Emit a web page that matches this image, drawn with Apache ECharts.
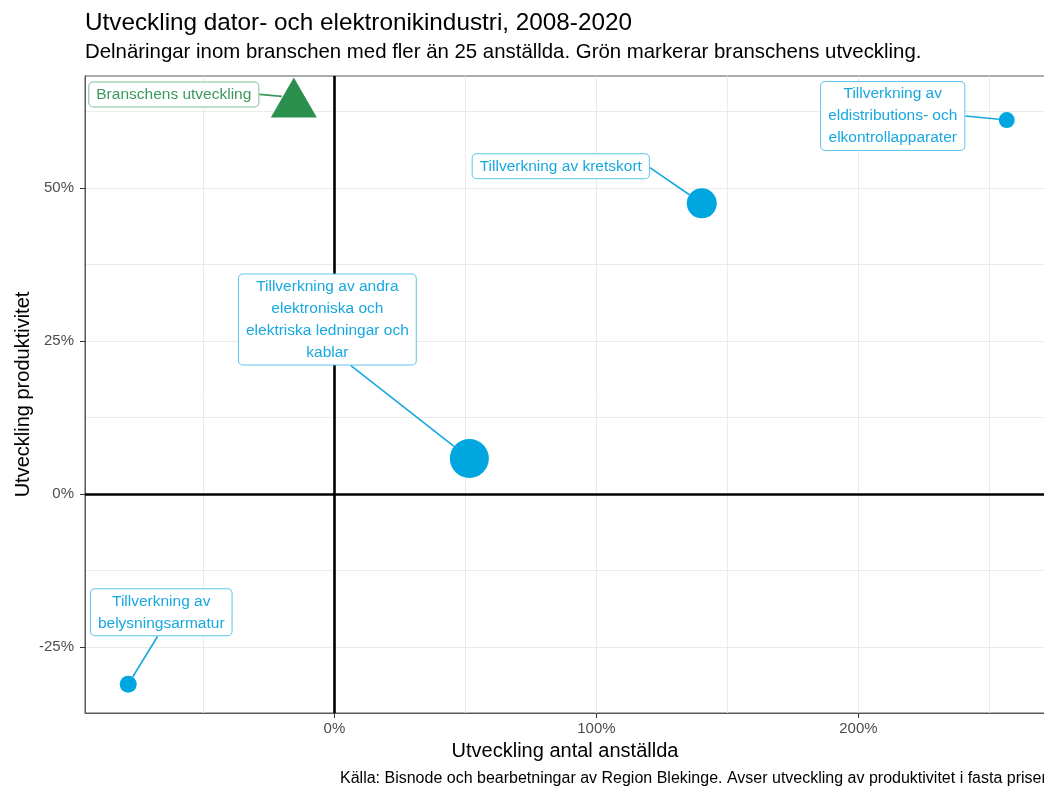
<!DOCTYPE html>
<html>
<head>
<meta charset="utf-8">
<script src="https://cdn.jsdelivr.net/npm/echarts@6/dist/echarts.min.js"></script>
<style>
  html, body { margin: 0; padding: 0; background: #fff; }
  #chart { width: 1044px; height: 787px; }
</style>
</head>
<body>
<div id="chart"></div>
<script>
  // delnäringar (blå punkter)
  var delnaringar = [
    'Tillverkning av\neldistributions- och\nelkontrollapparater',
    'Tillverkning av kretskort',
    'Tillverkning av andra\nelektroniska och\nelektriska ledningar och\nkablar',
    'Tillverkning av\nbelysningsarmatur'
  ];
  var anstallda = [256.6, 140.2, 51.5, -78.7];     // utveckling antal anställda, %
  var produktivitet = [61.1, 47.5, 5.8, -31.1];   // utveckling produktivitet, %
  var storlek = [16, 30, 39, 17];                 // punktstorlek

  // hela branschen (grön triangel)
  var bransch = ['Branschens utveckling'];
  var branschAnstallda = [-15.5];
  var branschProduktivitet = [64.8];

  var xTicks = [0, 100, 200];
  var yTicks = [-25, 0, 25, 50];

  var font = 'Liberation Sans, Arial, sans-serif';
  var blue = '#00A6DF';
  var green = '#2B8F4E';
  var blueText = '#17A8E0';
  var greenText = '#3A9A5C';

  // where the label boxes sit relative to their point (px), and where the leader line leaves the box
  var blueShift = [[-114, -4], [-141, -37], [-142, -139], [33, -72]];
  var blueAnchor = [[1, 0], [1, 0.1], [0.26, 1], [-0.05, 1]];
  var greenShift = [[-120, -3]];
  var greenAnchor = [[1, 0]];

  var leaders = {};   // filled while labels are laid out

  function pct(v) { return v + '%'; }

  function leader(key, shift, anchor, stop) {
    return function (p) {
      var s = shift[p.dataIndex], a = anchor[p.dataIndex], r = p.labelRect;
      var cx = r.x + r.width / 2 + s[0], cy = r.y + r.height / 2 + s[1];
      var sx = cx + a[0] * r.width / 2, sy = cy + a[1] * r.height / 2;
      var px = p.rect.x + p.rect.width / 2, py = p.rect.y + p.rect.height / 2;
      var dx = px - sx, dy = py - sy, d = Math.sqrt(dx * dx + dy * dy);
      var g = stop(p.dataIndex);
      leaders[key + p.dataIndex] = [[sx, sy], [px - dx / d * g, py - dy / d * g]];
      return { dx: s[0], dy: s[1], hideOverlap: false };
    };
  }

  var xMin = -95.2, xMax = 271.2, yMin = -35.8, yMax = 68.3;

  var caption = {
    id: 'kalla', type: 'text', left: 340, top: 771, silent: true,
    style: {
      text: 'Källa: Bisnode och bearbetningar av Region Blekinge. Avser utveckling av produktivitet i fasta priser',
      font: '16px ' + font, fill: '#000'
    }
  };

  var option = {
    animation: false,
    backgroundColor: '#fff',
    textStyle: { fontFamily: font },
    title: {
      left: 85, top: 11, padding: 0, itemGap: 7,
      text: 'Utveckling dator- och elektronikindustri, 2008-2020',
      subtext: 'Delnäringar inom branschen med fler än 25 anställda. Grön markerar branschens utveckling.',
      textStyle: { fontFamily: font, fontSize: 24.3, lineHeight: 24, fontWeight: 'normal', color: '#000' },
      subtextStyle: { fontFamily: font, fontSize: 20.4, lineHeight: 20, color: '#000' }
    },
    grid: {
      left: 85, right: -1, top: 76, bottom: 74, outerBoundsMode: 'none',
      show: true, borderColor: '#595959', borderWidth: 1, backgroundColor: '#fff'
    },
    xAxis: [{
      type: 'value', min: xMin, max: xMax, minInterval: 50, maxInterval: 50, splitNumber: 7,
      axisLine: { show: false }, axisTick: { show: false }, axisLabel: { show: false },
      splitLine: { show: true, showMinLine: false, showMaxLine: false, lineStyle: { color: '#EBEBEB', width: 1 } }
    }, {
      type: 'value', position: 'bottom', min: xMin, max: xMax,
      name: 'Utveckling antal anställda', nameLocation: 'middle', nameGap: 28, nameMoveOverlap: false,
      nameTextStyle: { fontFamily: font, fontSize: 20, color: '#000' },
      axisLine: { show: true, onZero: false, lineStyle: { color: '#595959', width: 1 } },
      axisTick: { show: true, length: 5, customValues: xTicks, lineStyle: { color: '#333' } },
      axisLabel: { margin: 8, fontSize: 15, color: '#4D4D4D', fontFamily: font, customValues: xTicks, formatter: pct },
      splitLine: { show: false }
    }],
    yAxis: [{
      type: 'value', min: yMin, max: yMax, minInterval: 12.5, maxInterval: 12.5, splitNumber: 8,
      axisLine: { show: false }, axisTick: { show: false }, axisLabel: { show: false },
      splitLine: { show: true, showMinLine: false, showMaxLine: false, lineStyle: { color: '#EBEBEB', width: 1 } }
    }, {
      type: 'value', position: 'left', min: yMin, max: yMax,
      name: 'Utveckling produktivitet', nameLocation: 'middle', nameGap: 52, nameMoveOverlap: false,
      nameTextStyle: { fontFamily: font, fontSize: 20, color: '#000' },
      axisLine: { show: true, onZero: false, lineStyle: { color: '#595959', width: 1 } },
      axisTick: { show: true, length: 5, customValues: yTicks, lineStyle: { color: '#333' } },
      axisLabel: { margin: 11, fontSize: 15, color: '#4D4D4D', fontFamily: font, customValues: yTicks, formatter: pct },
      splitLine: { show: false }
    }],
    graphic: [caption],
    series: [{
      type: 'scatter', name: 'nollinjer', xAxisIndex: 0, yAxisIndex: 0, data: [], z: 1,
      markLine: {
        silent: true, symbol: 'none', animation: false, z: 1,
        label: { show: false },
        lineStyle: { color: '#000', width: 2.6, type: 'solid' },
        emphasis: { disabled: true },
        data: [{ xAxis: 0 }, { yAxis: 0 }]
      }
    }, {
      type: 'scatter', name: 'delnäringar', xAxisIndex: 0, yAxisIndex: 0, z: 3,
      data: anstallda.map(function (x, i) { return [x, produktivitet[i], storlek[i]]; }),
      symbol: 'circle',
      symbolSize: function (v) { return v[2]; },
      itemStyle: { color: blue, opacity: 1 },
      emphasis: { disabled: true },
      label: {
        show: true, position: 'inside',
        formatter: function (p) { return delnaringar[p.dataIndex]; },
        fontFamily: font, fontSize: 15.5, lineHeight: 22, color: blueText, align: 'center',
        backgroundColor: '#fff', borderColor: '#5EC4EC', borderWidth: 1, borderRadius: 4,
        padding: [2, 7, 0, 7]
      },
      labelLayout: leader('b', blueShift, blueAnchor, function (i) { return storlek[i] / 2; })
    }, {
      type: 'scatter', name: 'bransch', xAxisIndex: 0, yAxisIndex: 0, z: 3,
      data: branschAnstallda.map(function (x, i) { return [x, branschProduktivitet[i]]; }),
      symbol: 'triangle', symbolSize: [46, 40],
      itemStyle: { color: green, opacity: 1 },
      emphasis: { disabled: true },
      label: {
        show: true, position: 'inside',
        formatter: function (p) { return bransch[p.dataIndex]; },
        fontFamily: font, fontSize: 15.5, lineHeight: 22, color: greenText, align: 'center',
        backgroundColor: '#fff', borderColor: '#7DBF95', borderWidth: 1, borderRadius: 4,
        padding: [2, 7, 0, 7]
      },
      labelLayout: leader('g', greenShift, greenAnchor, function () { return 12; })
    }]
  };

  var chart = echarts.init(document.getElementById('chart'));
  chart.setOption(option);

  // leader lines from each label box to its point
  var lines = [caption];
  Object.keys(leaders).forEach(function (k) {
    lines.push({
      id: 'linje-' + k, type: 'polyline', silent: true, z: 2,
      shape: { points: leaders[k] },
      style: { stroke: k.charAt(0) === 'g' ? greenText : blueText, lineWidth: 1.6, fill: null }
    });
  });
  chart.setOption({ graphic: lines });
</script>
</body>
</html>
